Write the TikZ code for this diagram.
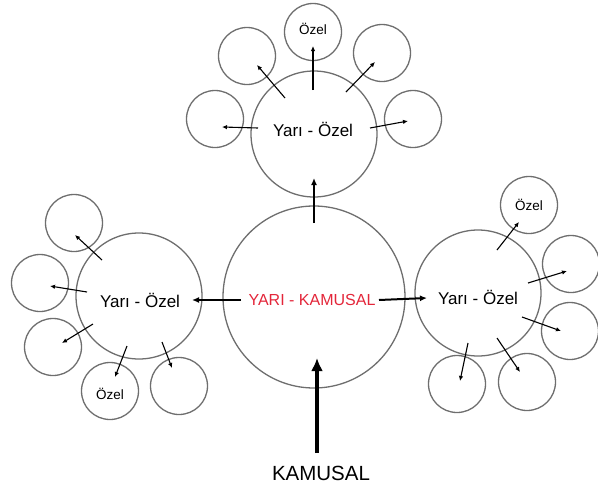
\documentclass[tikz,border=0pt]{standalone}
\usepackage{fontspec}
\setmainfont{Liberation Sans}
\usetikzlibrary{arrows.meta}
\definecolor{ringgray}{HTML}{6E6E6E}
\definecolor{redtext}{HTML}{E3263A}
\begin{document}
\begin{tikzpicture}[x=1pt,y=-1pt,
  ring/.style={circle,draw=ringgray,line width=1.3pt,inner sep=0pt,minimum size=#1},
  big/.style={ring=182pt},
  mid/.style={ring=126pt},
  small/.style={ring=57pt},
  lbl/.style={inner sep=0pt,font=\fontsize{#1}{#1}\selectfont},
  thin/.style={draw=black,line width=1.1pt,-{Latex[length=5pt,width=4.5pt]}},
  main/.style={draw=black,line width=2pt,-{Latex[length=7pt,width=6pt]}},
  heavy/.style={draw=black,line width=3.6pt,-{Latex[length=13pt,width=12pt]}}]
\useasboundingbox (0,0) rectangle (598,488);
% circles
\node[big] (C) at (314,297) {};
\node[mid] (T) at (314,134) {};
\node[mid] (L) at (139,296) {};
\node[mid] (R) at (478,293) {};
% top group small circles
\node[small] (T1) at (313,32) {};
\node[small] (T2) at (247,56) {};
\node[small] (T3) at (382,53) {};
\node[small] (T4) at (215,119) {};
\node[small] (T5) at (413,119) {};
% left group
\node[small] (L1) at (74,223) {};
\node[small] (L2) at (40,283) {};
\node[small] (L3) at (53,347) {};
\node[small] (L4) at (110,391) {};
\node[small] (L5) at (179,386) {};
% right group
\node[small] (R1) at (529,205) {};
\node[small] (R2) at (571,264) {};
\node[small] (R3) at (570,331) {};
\node[small] (R4) at (457,384) {};
\node[small] (R5) at (527,382) {};
% texts
\node[lbl=16pt,text=redtext] (tc) at (312,300) {YARI - KAMUSAL};
\node[lbl=17pt] (tt) at (313,129) {Yarı - Özel};
\node[lbl=17pt] (tl) at (140,300) {Yarı - Özel};
\node[lbl=17pt] (tr) at (478,297) {Yarı - Özel};
\node[lbl=13.5pt] (tT1) at (313,29) {Özel};
\node[lbl=13.5pt] (tL4) at (110,394) {Özel};
\node[lbl=13.5pt] (tR1) at (529,205) {Özel};
\node[lbl=20.5pt] (tk) at (321,473) {KAMUSAL};
% coordinates for connector ends
\coordinate (cT0) at (314,223); \coordinate (cT1) at (314,178);
\coordinate (cL0) at (241,300); \coordinate (cL1) at (192,300);
\coordinate (cR0) at (379,300); \coordinate (cR1) at (427,298);
\coordinate (cB0) at (317,453); \coordinate (cB1) at (317,358);
% main connectors
\draw[main] (cT0) -- (cT1);
\draw[main] (cL0) -- (cL1);
\draw[main] (cR0) -- (cR1);
\draw[heavy] (cB0) -- (cB1);
% top group arrows
\coordinate (a1) at (313,90);  \coordinate (b1) at (313,46);
\coordinate (a2) at (285,98);  \coordinate (b2) at (257,65);
\coordinate (a3) at (346,92);  \coordinate (b3) at (375,62);
\coordinate (a4) at (258,128); \coordinate (b4) at (222,127);
\coordinate (a5) at (370,128); \coordinate (b5) at (408,121);
\foreach \i in {1,...,5} \draw[thin] (a\i) -- (b\i);
% left group arrows
\coordinate (d1) at (102,260); \coordinate (e1) at (75,235);
\coordinate (d2) at (87,292);  \coordinate (e2) at (50,286);
\coordinate (d3) at (93,324);  \coordinate (e3) at (62,343);
\coordinate (d4) at (127,346); \coordinate (e4) at (115,377);
\coordinate (d5) at (162,342); \coordinate (e5) at (172,368);
\foreach \i in {1,...,5} \draw[thin] (d\i) -- (e\i);
% right group arrows
\coordinate (f1) at (497,250); \coordinate (g1) at (519,222);
\coordinate (f2) at (528,283); \coordinate (g2) at (567,271);
\coordinate (f3) at (522,317); \coordinate (g3) at (561,331);
\coordinate (f4) at (468,343); \coordinate (g4) at (460,381);
\coordinate (f5) at (497,338); \coordinate (g5) at (520,372);
\foreach \i in {1,...,5} \draw[thin] (f\i) -- (g\i);
\end{tikzpicture}
\end{document}
